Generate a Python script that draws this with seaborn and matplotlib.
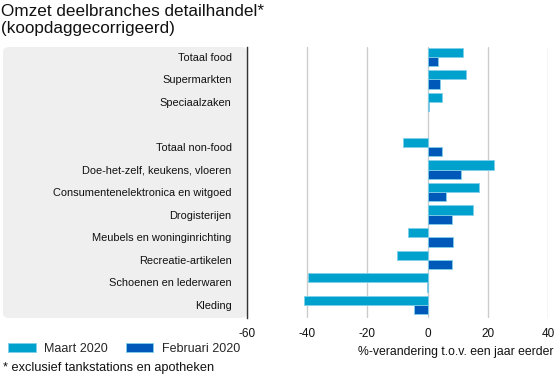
import numpy as np
import pandas as pd
import matplotlib.pyplot as plt
import seaborn as sns
from matplotlib.patches import FancyBboxPatch

# data
categories = ["Totaal food", "Supermarkten", "Speciaalzaken", " ",
              "Totaal non-food", "Doe-het-zelf, keukens, vloeren",
              "Consumentenelektronica en witgoed", "Drogisterijen",
              "Meubels en woninginrichting", "Recreatie-artikelen",
              "Schoenen en lederwaren", "Kleding"]
cats_with_data = [c for c in categories if c.strip()]
maart = [11.8, 12.9, 4.8, -8.1, 22.2, 17.1, 15.1, -6.4, -10.2, -39.8, -41.1]
februari = [3.4, 4.1, 0.3, 4.8, 11.1, 6.1, 8.1, 8.4, 8.1, -0.3, -4.5]
series = ["Maart 2020", "Februari 2020"]
xticks = [-60, -40, -20, 0, 20, 40]

df = pd.DataFrame({
    "branche": cats_with_data * 2,
    "waarde": maart + februari,
    "periode": [series[0]] * len(maart) + [series[1]] * len(februari),
})

sns.set_theme(style="white")
plt.rcParams["font.family"] = ["Liberation Sans", "DejaVu Sans"]

W, H = 555, 375
fig = plt.figure(figsize=(W / 100, H / 100), dpi=100)

# grey label panel behind the category names
panel = FancyBboxPatch((3 / W, 1 - 318 / H), (247 - 3) / W, (318 - 47) / H,
                       boxstyle="round,pad=0,rounding_size=0.012",
                       transform=fig.transFigure, facecolor="#efefef",
                       edgecolor="none", zorder=-5)
fig.patches.append(panel)

ax = fig.add_axes([247 / W, 1 - 318 / H, (548 - 247) / W, (318 - 47) / H])
ax.patch.set_alpha(0)

colors = {"Maart 2020": "#00a1cd", "Februari 2020": "#0058b8"}
sns.barplot(data=df, y="branche", x="waarde", hue="periode", order=categories,
            hue_order=series, palette=colors, saturation=1, orient="h",
            width=0.82, edgecolor="#7fd0ea", linewidth=0.6, legend=True,
            ax=ax, zorder=3)

ax.set_xlim(-60, 40)
ax.set_ylim(11.58, -0.44)
ax.set_xticks(xticks)
ax.set_xticklabels([str(t) for t in xticks], fontsize=8.5, color="#111111")
ax.tick_params(axis="x", length=0, pad=7.5)
ax.tick_params(axis="y", length=0, pad=11, labelsize=7.9, labelcolor="#111111")
ax.grid(axis="x", color="#cccccc", linewidth=1, zorder=0)
ax.set_xlabel("")
ax.set_ylabel("")
for s in ["top", "right", "bottom"]:
    ax.spines[s].set_visible(False)
ax.spines["left"].set_color("#333333")
ax.spines["left"].set_linewidth(1)

handles, labels = ax.get_legend_handles_labels()
ax.legend_.remove()
fig.legend(handles, labels, loc="center left", bbox_to_anchor=(8 / W, 1 - 349 / H),
           ncol=2, frameon=False, fontsize=9.0, handlelength=2.2, handleheight=0.7,
           columnspacing=1.4, handletextpad=0.7, borderaxespad=0, borderpad=0)

fig.text(1 / W, 1 - 11 / H, "Omzet deelbranches detailhandel*", fontsize=12.3,
         va="center", ha="left", color="#111111")
fig.text(1 / W, 1 - 29 / H, "(koopdaggecorrigeerd)", fontsize=12.3,
         va="center", ha="left", color="#111111")
fig.text(554 / W, 1 - 352 / H, "%-verandering t.o.v. een jaar eerder",
         fontsize=8.85, va="center", ha="right", color="#111111")
fig.text(3 / W, 1 - 368 / H, "* exclusief tankstations en apotheken",
         fontsize=9.2, va="center", ha="left", color="#111111")

fig.savefig("out.png", dpi=100)
